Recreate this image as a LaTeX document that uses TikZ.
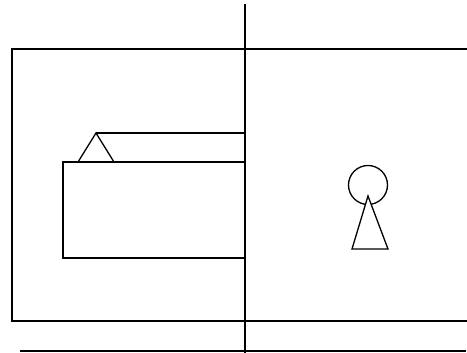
\documentclass[tikz,border=0pt]{standalone}
\usetikzlibrary{calc}

\begin{document}
\begin{tikzpicture}[x=1pt, y=-1pt, line width=1.3pt, line join=miter,
  part/.style={draw, fill=white},
  edge/.style={draw}]
\useasboundingbox (0,0) rectangle (467,353);
% cabinet outline (open to the right)
\draw[edge] (467,49) -- (12,49) -- (12,321) -- (467,321);
% floor line
\draw[edge] (20,351) -- (466,351);
% drawer with its lid
\draw[edge] (96,133) -- (245,133);
\draw[edge] (78,162) -- (96,133) -- (114,162);
\draw[edge] (245,162) -- (63,162) -- (63,258) -- (245,258);
% keyhole
\coordinate (hole) at (368,185);
\draw[edge] (hole) circle[radius=19.5];
\draw[part] ($(hole)+(0,11)$) -- ($(hole)+(20,64)$) -- ($(hole)+(-16,64)$) -- cycle;
% middle divider
\draw[edge] (245,4) -- (245,353);
\end{tikzpicture}
\end{document}
